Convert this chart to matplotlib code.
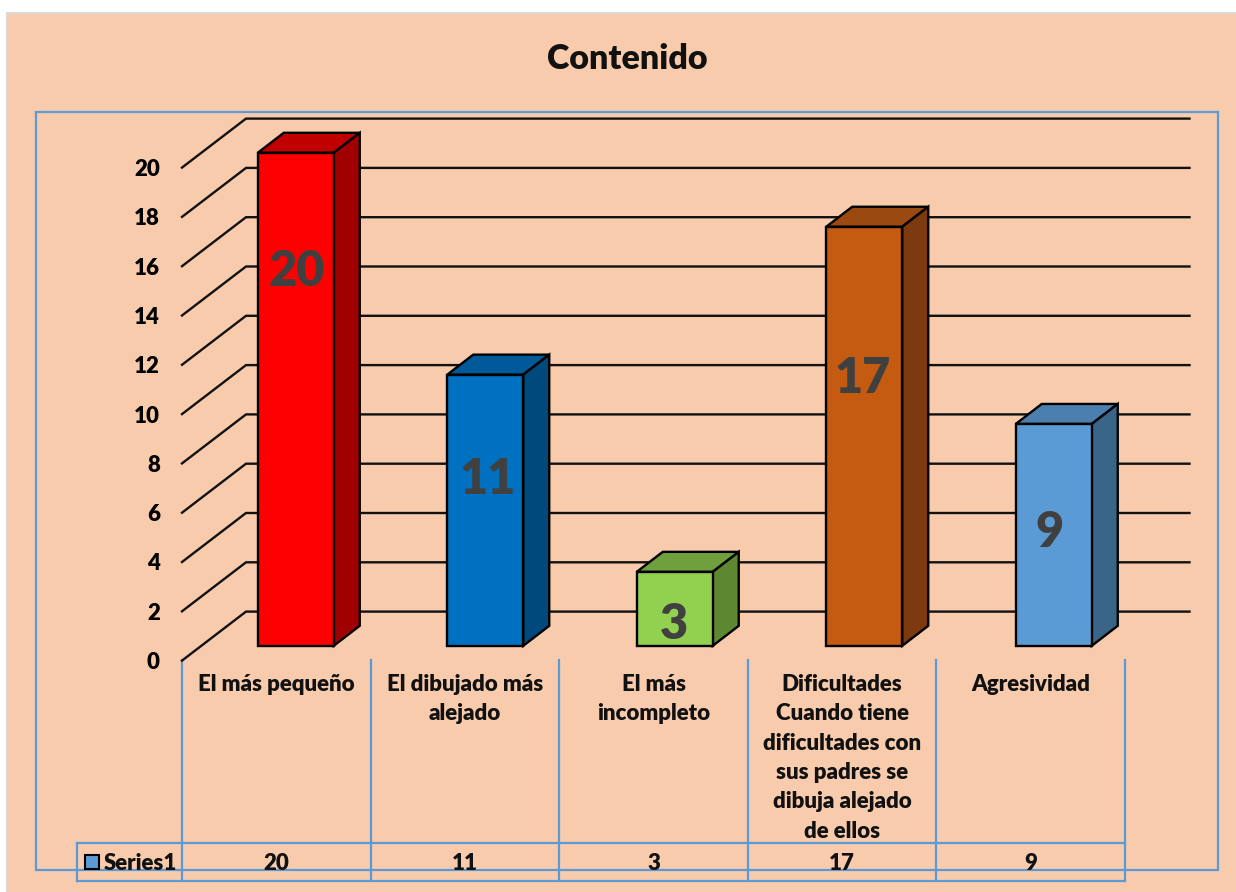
import matplotlib
matplotlib.use('Agg')
from matplotlib import pyplot as plt
from matplotlib.patches import Polygon, Rectangle

plt.rcParams['font.family'] = ['Lato', 'DejaVu Sans']
plt.rcParams['font.weight'] = 'heavy'

categories = ['El más pequeño', 'El dibujado más\nalejado', 'El más\nincompleto',
              'Dificultades\nCuando tiene\ndificultades con\nsus padres se\ndibuja alejado\nde ellos',
              'Agresividad']
values = [20, 11, 3, 17, 9]
front_colors = ['#FF0000', '#0070C0', '#92D050', '#C55A11', '#5B9BD5']
top_colors = ['#C00000', '#005A9A', '#70A03E', '#9A4A10', '#4A7FAE']
side_colors = ['#A00000', '#00497D', '#5E8731', '#7D3A0E', '#3A6588']
label_heights = [15.8, 7.35, 1.45, 11.45, 5.2]
label_shift = [1, 2, -1, -2, -4]
y_ticks = list(range(0, 21, 2))

W, H = 1236, 892
BLUE = '#5B9BD5'
fig = plt.figure(figsize=(W / 100, H / 100), dpi=100, facecolor='white')

# backdrop in pixel coordinates
bg = fig.add_axes([0, 0, 1, 1], zorder=0)
bg.set_xlim(0, W)
bg.set_ylim(H, 0)
bg.axis('off')
bg.add_patch(Rectangle((6.5, 12.5), W, H, fc='#F8CBAD', ec='#D9D9D9', lw=1.5))
bg.add_patch(Rectangle((36, 111.5), 1182, 758.5, fc='none', ec=BLUE, lw=1.6))
bg.text(627, 59, 'Contenido', ha='center', va='center', fontsize=24.5, color='#111111')

# main axes: front plane of the chart
x0, x1, y0, y20 = 182, 1129.5, 660.6, 167.6
ax = fig.add_axes([x0 / W, 1 - y0 / H, (x1 - x0) / W, (y0 - y20) / H], zorder=1)
ax.set_xlim(-0.5, 4.5)
ax.set_ylim(0, 20)
ax.patch.set_alpha(0)
for s in ax.spines.values():
    s.set_visible(False)
ax.set_xticks([])
ax.set_yticks(y_ticks)
ax.tick_params(axis='y', length=0, pad=16, labelsize=16)
for t in ax.get_yticklabels():
    t.set_fontweight('heavy')

cat_w = (x1 - x0) / 5
unit = (y0 - y20) / 20
wall_dx, wall_dy = 64 / cat_w, 49 / unit
bar_dx, bar_dy = 26 / cat_w, 20 / unit
off_x, off_y = 19 / cat_w, 14.8 / unit
bar_w = 76 / cat_w
grid_end = 4.5 + 60 / cat_w

# walls
for v in y_ticks:
    ax.plot([-0.5, -0.5 + wall_dx, grid_end], [v, v + wall_dy, v + wall_dy],
            color='#111111', lw=1.7, clip_on=False, zorder=1, solid_joinstyle='miter')

# bars
for i, v in enumerate(values):
    l = i + off_x - bar_w / 2
    r = l + bar_w
    b = off_y
    t = v + off_y
    ax.add_patch(Polygon([(l, t), (r, t), (r + bar_dx, t + bar_dy), (l + bar_dx, t + bar_dy)],
                         fc=top_colors[i], ec='black', lw=1.7, clip_on=False, zorder=2))
    ax.add_patch(Polygon([(r, b), (r + bar_dx, b + bar_dy), (r + bar_dx, t + bar_dy), (r, t)],
                         fc=side_colors[i], ec='black', lw=1.7, clip_on=False, zorder=2))
    ax.add_patch(Polygon([(l, b), (r, b), (r, t), (l, t)],
                         fc=front_colors[i], ec='black', lw=1.7, clip_on=False, zorder=3))
    ax.text(i + off_x + label_shift[i] / cat_w, label_heights[i], str(v), ha='center', va='center',
            fontsize=35, color='#404040', clip_on=False, zorder=4)

# data table below the axis
tx0, tx1 = 182, 1125
tw = (tx1 - tx0) / 5
for k in range(6):
    bg.plot([tx0 + k * tw] * 2, [660, 881], color=BLUE, lw=1.6)
bg.plot([77, 77], [843, 881], color=BLUE, lw=1.6)
bg.plot([77, tx1], [843, 843], color=BLUE, lw=1.6)
bg.plot([77, tx1], [881, 881], color=BLUE, lw=1.6)
for i, cat in enumerate(categories):
    cx = tx0 + (i + 0.5) * tw
    bg.text(cx, 674, cat, ha='center', va='top', fontsize=16, linespacing=1.49, color='#111111')
    bg.text(cx, 864, str(values[i]), ha='center', va='center', fontsize=16, color='#111111')
bg.add_patch(Rectangle((85, 855), 14, 14, fc=BLUE, ec='black', lw=1.5))
bg.text(104, 864, 'Series1', ha='left', va='center', fontsize=16, color='#111111')

fig.savefig('out.png', dpi=100)
